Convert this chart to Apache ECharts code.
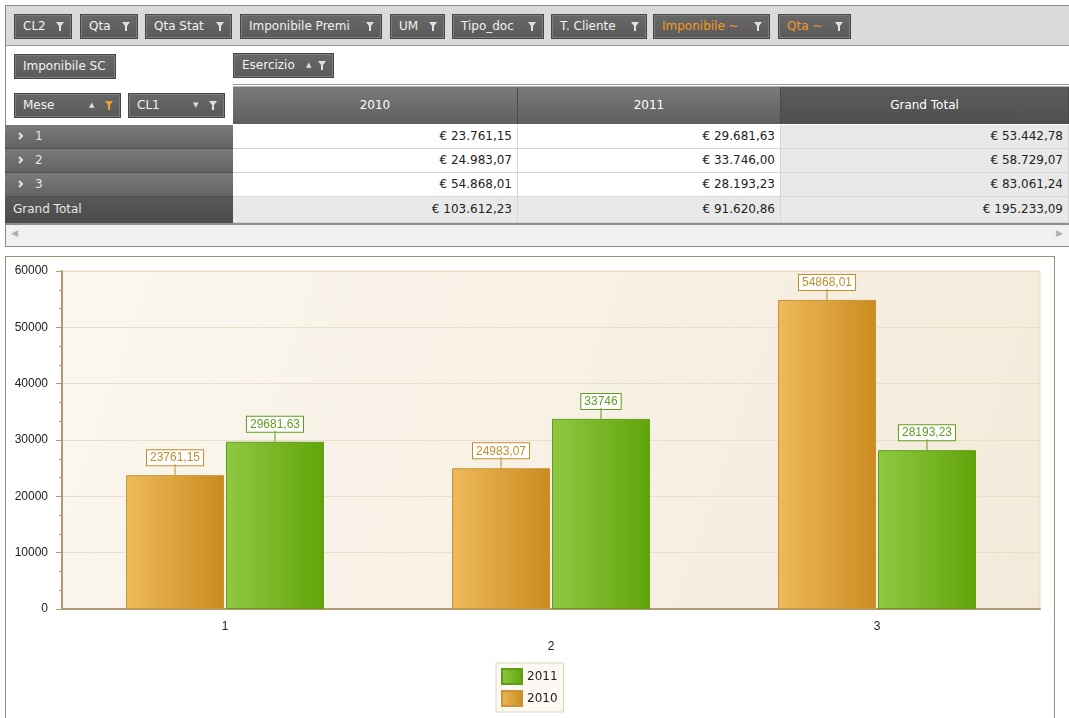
<!DOCTYPE html>
<html><head><meta charset="utf-8">
<script src="https://cdn.jsdelivr.net/npm/echarts@6/dist/echarts.min.js"></script>
<style>
body{margin:0;width:1069px;height:718px;overflow:hidden;background:#fff;font-family:"DejaVu Sans",sans-serif;font-size:12px;position:relative}
.a{position:absolute;box-sizing:border-box}
.btn{position:absolute;box-sizing:border-box;height:25px;background:linear-gradient(#686868,#5a5a5a);border:1px solid #454545;box-shadow:inset 0 0 0 1px #7c7c7c;color:#f2f2f2;line-height:23px;padding-left:8px;white-space:nowrap}
.btn svg.f{position:absolute;right:7px;top:7px}
.btn .ar{position:absolute;top:0;font-size:7px;color:#ddd}
.hdr{position:absolute;box-sizing:border-box;top:87px;height:37px;color:#fff;text-align:center;line-height:36px;border-right:1px solid #4a4a4a}
.rh{position:absolute;box-sizing:border-box;left:5px;width:228px;color:#e6e6e6;padding-left:8px;border-bottom:1px solid #4e4e4e;background:linear-gradient(#7a7a7a,#646464)}
.cell{position:absolute;box-sizing:border-box;text-align:right;color:#222;border-bottom:1px solid #d6d6d6;border-right:1px solid #d6d6d6}
#chart{position:absolute;left:5px;top:256px;width:1050px;height:470px;box-sizing:border-box;border:1px solid #a3907c}
</style></head>
<body>
<div id="pivot"></div>
<div id="chart"></div>
<script>
// ---------- data ----------
const categories = ['1', '2', '3'];
const seriesNames = ['2010', '2011'];
const values2010 = [23761.15, 24983.07, 54868.01];
const values2011 = [29681.63, 33746.00, 28193.23];
const rowTotals = [53442.78, 58729.07, 83061.24];
const colTotals = [103612.23, 91620.86];
const grandTotal = 195233.09;
const yTicks = {min: 0, max: 60000, step: 10000};
const fieldNames = ['CL2', 'Qta', 'Qta Stat', 'Imponibile Premi', 'UM', 'Tipo_doc', 'T. Cliente', 'Imponibile ~', 'Qta ~'];
const headerNames = ['2010', '2011', 'Grand Total'];

// ---------- pivot layout ----------
const fieldLeft = [14, 80, 145, 240, 390, 452, 551, 653, 778];
const fieldRight = [72, 138, 232, 382, 445, 544, 647, 770, 851];
const colX = [233, 518, 781, 1069];
const rowY = [125, 149, 173, 197, 223];

const P = document.getElementById('pivot');
function add(html){ P.insertAdjacentHTML('beforeend', html); }
function funnel(color){ return '<svg class="f" width="8" height="9" viewBox="0 0 8 9"><polygon points="0,0 8,0 5,4 5,9 3,9 3,4" fill="'+color+'"/></svg>'; }
function eur(v){ const parts = v.toFixed(2).split('.'); return '€ ' + parts[0].replace(/\B(?=(\d{3})+(?!\d))/g, '.') + ',' + parts[1]; }

// outer frame
add('<div class="a" style="left:5px;top:5px;width:1070px;height:242px;border:1px solid #8a8a8a"></div>');
add('<div class="a" style="left:6px;top:6px;width:1070px;height:40px;background:#dadada;border-bottom:1px solid #9a9a9a"></div>');
fieldNames.forEach((n, i) => {
  const w = fieldRight[i] - fieldLeft[i];
  const col = i >= 7 ? '#f39a1c' : '#f2f2f2';
  add('<div class="btn" style="left:'+fieldLeft[i]+'px;top:14px;width:'+w+'px;color:'+col+'">'+n+funnel('#e0e0e0')+'</div>');
});
add('<div class="btn" style="left:14px;top:54px;width:102px">Imponibile SC</div>');
add('<div class="btn" style="left:233px;top:53px;width:101px">Esercizio<span class="ar" style="left:72px">▲</span>'+funnel('#e0e0e0')+'</div>');
add('<div class="a" style="left:233px;top:84px;width:840px;height:3px;border-top:1px solid #9a9a9a;border-bottom:1px solid #b5b5b5"></div>');
add('<div class="btn" style="left:14px;top:93px;width:107px">Mese<span class="ar" style="left:74px">▲</span>'+funnel('#f0a030')+'</div>');
add('<div class="btn" style="left:128px;top:93px;width:97px">CL1<span class="ar" style="left:64px">▼</span>'+funnel('#e0e0e0')+'</div>');

headerNames.forEach((h, c) => {
  const bg = c === 2 ? 'linear-gradient(#5c5c5c,#4f4f4f)' : 'linear-gradient(#7a7a7a,#5f5f5f)';
  add('<div class="hdr" style="left:'+colX[c]+'px;width:'+(colX[c+1]-colX[c])+'px;background:'+bg+'">'+h+'</div>');
});

const rows = categories.map((m, r) => [values2010[r], values2011[r], rowTotals[r]]);
rows.push([colTotals[0], colTotals[1], grandTotal]);
rows.forEach((vals, r) => {
  const h = rowY[r+1] - rowY[r];
  const isGT = r === categories.length;
  const label = isGT ? 'Grand Total' :
    '<svg width="6" height="8" viewBox="0 0 6 8" style="margin-right:11px;margin-left:5px"><polyline points="1,1 4,4 1,7" fill="none" stroke="#e6e6e6" stroke-width="2"/></svg>' + categories[r];
  const rbg = isGT ? 'background:linear-gradient(#585858,#4b4b4b)' : '';
  add('<div class="rh" style="top:'+rowY[r]+'px;height:'+h+'px;line-height:'+(h-1)+'px;'+rbg+'">'+label+'</div>');
  vals.forEach((v, c) => {
    const bg = (isGT || c === 2) ? '#e9e9e9' : '#fff';
    add('<div class="cell" style="left:'+colX[c]+'px;top:'+rowY[r]+'px;width:'+(colX[c+1]-colX[c])+'px;height:'+h+'px;line-height:'+(h-1)+'px;padding-right:5px;background:'+bg+'">'+eur(v)+'</div>');
  });
});
// scrollbar
add('<div class="a" style="left:6px;top:223px;width:1070px;height:23px;background:#f1f1f1;border-top:2px solid #8e8e8e"></div>');
add('<div class="a" style="left:11px;top:228px;color:#b0b0b0;font-size:9px">◀</div>');
add('<div class="a" style="left:1056px;top:228px;color:#b0b0b0;font-size:9px">▶</div>');

// ---------- chart ----------
const chart = echarts.init(document.getElementById('chart'));
const axisCol = '#b39a74';
const numFont = 'Liberation Sans';
const grad = (a, b) => new echarts.graphic.LinearGradient(0, 0, 1, 0, [{offset: 0, color: a}, {offset: 1, color: b}]);
const fmt = v => String(v).replace('.', ',');
function lbl(color){
  return {show: true, position: 'top', distance: 0,
    formatter: p => '{box|' + fmt(p.value) + '}\n{stem| }',
    rich: {
      box: {color: color, fontSize: 12, fontFamily: numFont, backgroundColor: '#fff', borderColor: color, borderWidth: 1, padding: [2, 3, 1, 3], lineHeight: 13},
      stem: {width: 1, height: 11, backgroundColor: color, lineHeight: 11, fontSize: 1}
    }};
}
const minorSlots = [];
categories.forEach(c => { for (let k = 0; k < 5; k++) minorSlots.push(c + '_' + k); });

chart.setOption({
  animation: false,
  grid: {left: 56, top: 14, width: 978, height: 338, show: true,
    backgroundColor: new echarts.graphic.LinearGradient(0, 0, 1, 1, [{offset: 0, color: '#fbf7ef'}, {offset: 1, color: '#f4eadb'}]),
    borderColor: '#eadfc8', borderWidth: 1},
  legend: {data: ['2011', '2010'], orient: 'vertical', left: 490, top: 406, itemWidth: 20, itemHeight: 15, itemGap: 5,
    icon: 'rect',
    padding: [5, 6, 5, 5], backgroundColor: '#fcf9f3', borderColor: '#e0d4bd', borderWidth: 1,
    textStyle: {fontSize: 12, color: '#222', fontFamily: 'DejaVu Sans'}},
  xAxis: [
    {type: 'category', data: categories,
      axisLine: {lineStyle: {color: axisCol, width: 2}},
      axisTick: {alignWithLabel: true, length: 6, lineStyle: {color: axisCol}},
      axisLabel: {margin: 8, lineHeight: 20, color: '#222', fontSize: 12, fontFamily: numFont,
        formatter: (v, i) => (i % 2 ? '\n' + v : v)}},
    {type: 'category', data: minorSlots, position: 'bottom',
      axisLine: {show: false}, axisTick: {alignWithLabel: true, length: 3, lineStyle: {color: axisCol}},
      axisLabel: {show: false}, splitLine: {show: false}}
  ],
  yAxis: {type: 'value', min: yTicks.min, max: yTicks.max, interval: yTicks.step,
    axisLine: {show: true, lineStyle: {color: axisCol, width: 2}},
    axisTick: {show: true, length: 6, lineStyle: {color: axisCol}},
    minorTick: {show: true, splitNumber: 3, length: 3, lineStyle: {color: axisCol}},
    axisLabel: {margin: 14, color: '#222', fontSize: 12, fontFamily: numFont, formatter: v => String(v)},
    splitLine: {lineStyle: {color: '#ecdfca'}}},
  series: [
    {name: seriesNames[0], type: 'bar', data: values2010, barWidth: 98, barGap: '2%',
      itemStyle: {color: grad('#eeba5a', '#cb8b1f'), borderColor: '#c8943a', borderWidth: 1},
      label: lbl('#c48c2c')},
    {name: seriesNames[1], type: 'bar', data: values2011, barWidth: 98, barGap: '2%',
      itemStyle: {color: grad('#8fc842', '#61a40a'), borderColor: '#5e9e16', borderWidth: 1},
      label: lbl('#5f9e1c')}
  ]
});
</script>
</body></html>
